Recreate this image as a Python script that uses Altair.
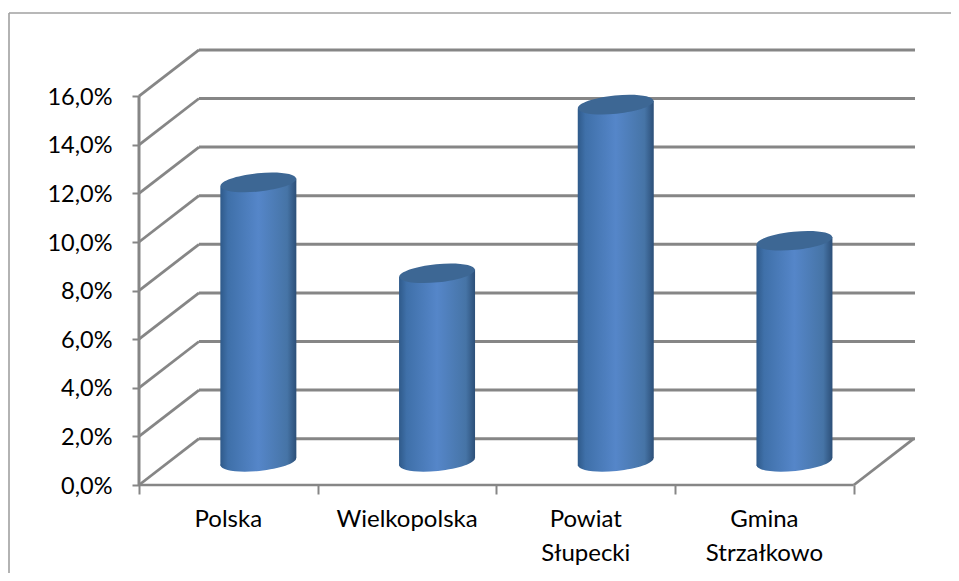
import math
import altair as alt
import pandas as pd

categories = ["Polska", "Wielkopolska", "Powiat\nSłupecki", "Gmina\nStrzałkowo"]
values = [11.5, 7.76, 14.7, 9.1]
y_ticks = [0, 2, 4, 6, 8, 10, 12, 14, 16]
x_ticks = [0, 1, 2, 3, 4]

GREY = "#868686"
FONT = "Lato"
FS = 23.5
W, H = 776, 436
DX = 60 / 178.7      # depth of the 3D box in category units
DY = 46.3 / 24.3     # depth of the 3D box in percent units
XMAX = W / 178.7
YMAX = H / 24.3
BAR = 76 / 178.7
TILT = 3.8 / 24.3    # rise of the cylinder rim from its centre to its edge

xs = alt.Scale(domain=[0, XMAX], nice=False, zero=False)
ys = alt.Scale(domain=[0, YMAX], nice=False, zero=False)


def ellipse_path(b=0.24, deg=-5.7):
    k = 0.5523
    c, s = math.cos(math.radians(deg)), math.sin(math.radians(deg))
    def p(x, y):
        return f"{x*c - y*b*s:.4f},{x*s + y*b*c:.4f}"
    return (f"M{p(1,0)}C{p(1,k)} {p(k,1)} {p(0,1)}C{p(-k,1)} {p(-1,k)} {p(-1,0)}"
            f"C{p(-1,-k)} {p(-k,-1)} {p(0,-1)}C{p(k,-1)} {p(1,-k)} {p(1,0)}Z")


SHAPE = ellipse_path()
grad = alt.LinearGradient(
    gradient="linear", x1=0, x2=1, y1=0, y2=0,
    stops=[
        alt.GradientStop(offset=0, color="#2f5a8a"),
        alt.GradientStop(offset=0.1, color="#3f70a9"),
        alt.GradientStop(offset=0.5, color="#5586c9"),
        alt.GradientStop(offset=0.88, color="#4674a6"),
        alt.GradientStop(offset=1, color="#2c4f78"),
    ],
)

bars = pd.DataFrame({
    "cat": categories,
    "xc": [i + 0.5 + DX / 2 for i in range(len(values))],
    "base": [DY / 2] * len(values),
    "top": [v + DY / 2 for v in values],
})
sides = []
for i, v in enumerate(values):
    for sign in (-1, 1):
        sides.append({
            "cat": categories[i],
            "x": i + 0.5 + DX / 2 + sign * BAR / 2,
            "y": v + DY / 2 + sign * TILT,
            "y2": DY / 2 + sign * TILT,
        })
sides = pd.DataFrame(sides)
labels = pd.DataFrame({"cat": categories, "x": [i + 0.5 for i in range(len(categories))]})

lines = []
for v in y_ticks:
    lines.append({"x": DX, "x2": XMAX, "y": v + DY, "y2": v + DY, "w": 3})
    lines.append({"x": 0, "x2": DX, "y": v, "y2": v + DY, "w": 2.8})
lines.append({"x": 0, "x2": 4, "y": 0, "y2": 0, "w": 2.4})
lines.append({"x": 4, "x2": 4 + DX, "y": 0, "y2": DY, "w": 2.8})
lines.append({"x": 0, "x2": 0, "y": 0, "y2": 16, "w": 3})
lines = pd.DataFrame(lines)

X = alt.X("x:Q", scale=xs, axis=alt.Axis(
    values=x_ticks, labels=False, title=None, grid=False, domain=False,
    tickSize=9, tickColor=GREY, tickWidth=2))
Y = alt.Y("y:Q", scale=ys, axis=alt.Axis(
    values=y_ticks, title=None, grid=False, domain=False,
    tickSize=7, tickColor=GREY, tickWidth=2,
    labelFont=FONT, labelFontSize=FS, labelColor="#000000", labelPadding=20,
    labelOffset=1,
    labelExpr="replace(format(datum.value, '.1f'), '.', ',') + '%'"))

wall = alt.Chart(lines).mark_rule(color=GREY).encode(
    x=X, x2="x2:Q", y=Y, y2="y2:Q",
    strokeWidth=alt.StrokeWidth("w:Q", scale=None),
)

bottom = alt.Chart(bars).mark_point(
    shape=SHAPE, size=5776, filled=True, fill=grad, opacity=1, strokeOpacity=0
).encode(x=alt.X("xc:Q", scale=xs), y=alt.Y("base:Q", scale=ys))

body = alt.Chart(sides).mark_area(fill=grad, opacity=1).encode(
    x=alt.X("x:Q", scale=xs),
    y=alt.Y("y:Q", scale=ys), y2="y2:Q",
    detail="cat:N",
)

top = alt.Chart(bars).mark_point(
    shape=SHAPE, size=5776, filled=True, fill="#3d6794", opacity=1, strokeOpacity=0
).encode(x=alt.X("xc:Q", scale=xs), y=alt.Y("top:Q", scale=ys))

text = alt.Chart(labels).mark_text(
    font=FONT, fontSize=24, color="#000000", baseline="top", align="center",
    lineBreak="\n", lineHeight=34,
).encode(x=alt.X("x:Q", scale=xs), y=alt.value(H + 23), text="cat:N")

frame_v = alt.Chart(pd.DataFrame({"a": [0]})).mark_rule(color="#a0a0a0", strokeWidth=1.6).encode(
    x=alt.value(-130), y=alt.value(-36), y2=alt.value(H + 120))
frame_h = alt.Chart(pd.DataFrame({"a": [0]})).mark_rule(color="#a0a0a0", strokeWidth=1.6).encode(
    y=alt.value(-36), x=alt.value(-130), x2=alt.value(W + 60))

chart = alt.layer(
    frame_v, frame_h, wall, bottom, body, top, text
).properties(
    width=W, height=H,
    padding={"left": 131, "top": 41, "right": 36, "bottom": 88},
    autosize=alt.AutoSizeParams(type="none"),
).configure_view(stroke=None)

chart.save("out.html", embed_options={"renderer": "svg", "actions": False})
